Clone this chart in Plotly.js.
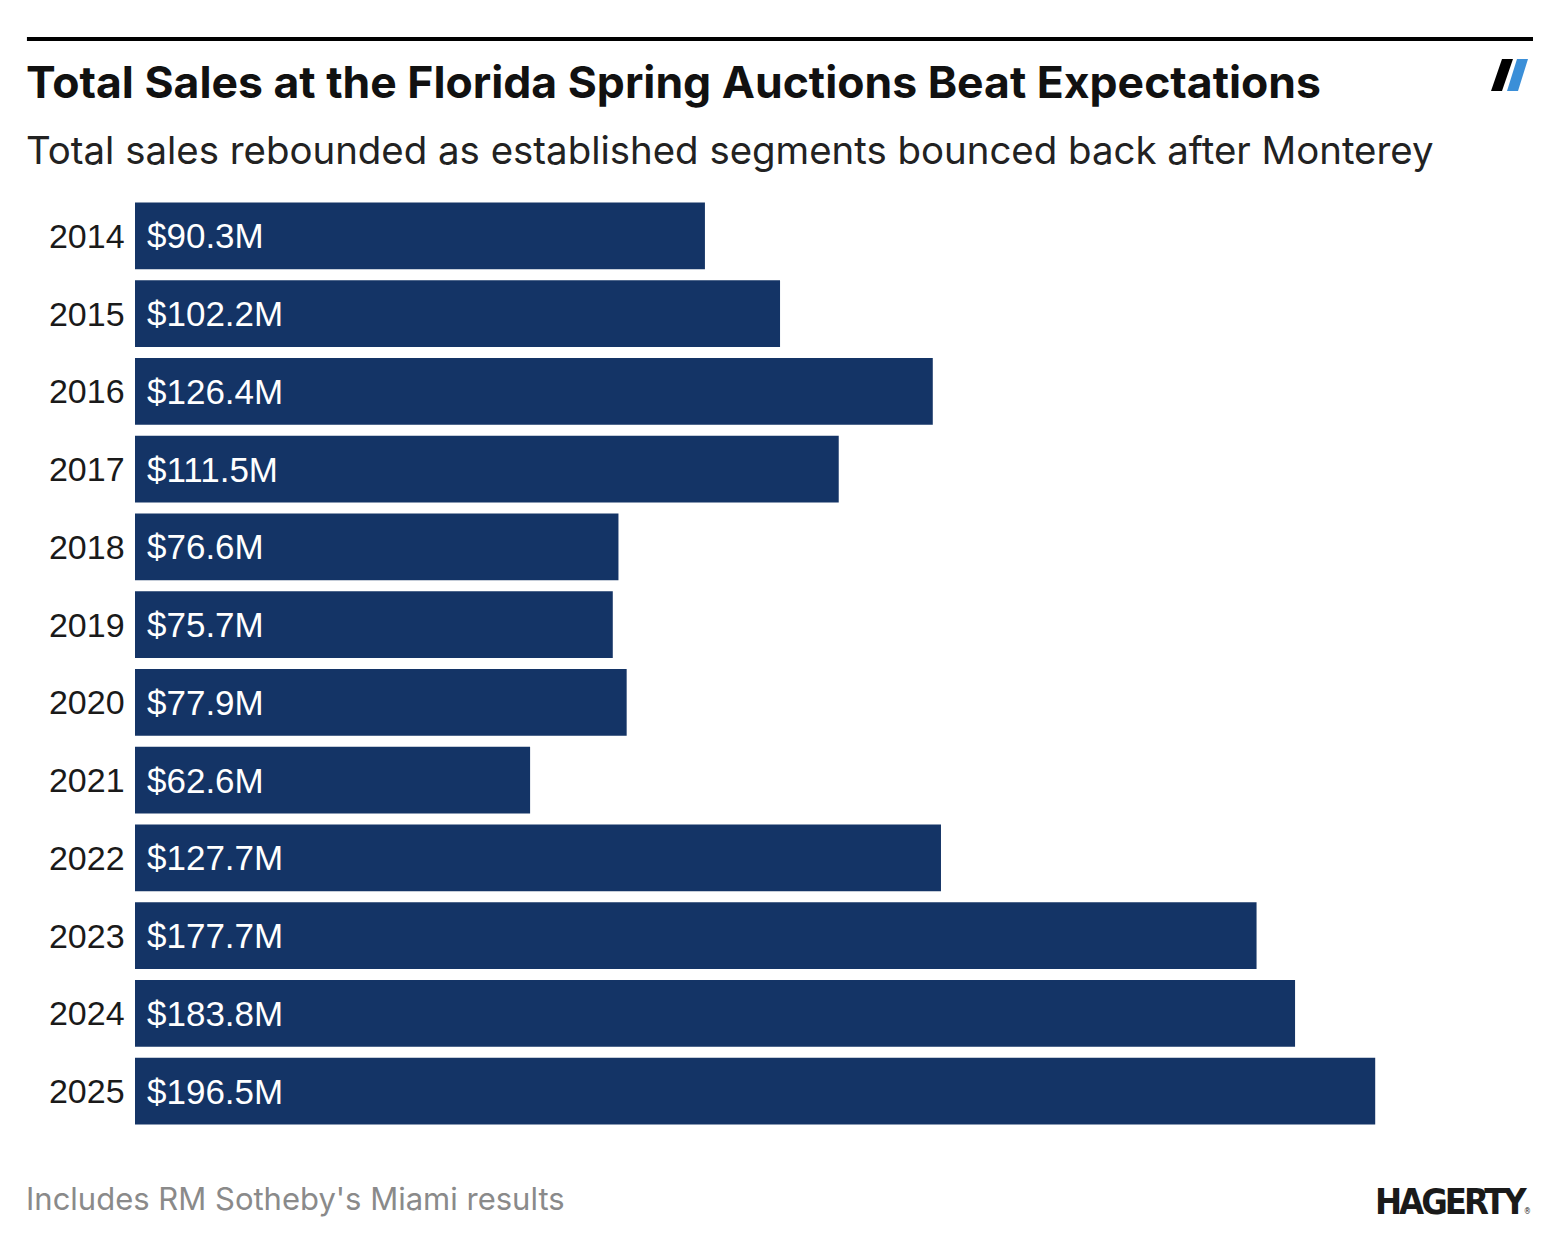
<!DOCTYPE html>
<html>
<head>
<meta charset="utf-8">
<script src="https://cdn.plot.ly/plotly-3.0.1.min.js"></script>
<style>html,body{margin:0;padding:0;background:#fff;}#chart{width:1566px;height:1252px;}</style>
</head>
<body>
<div id="chart"></div>
<script>
const years = ["2014","2015","2016","2017","2018","2019","2020","2021","2022","2023","2024","2025"];
const sales = [90.3, 102.2, 126.4, 111.5, 76.6, 75.7, 77.9, 62.6, 127.7, 177.7, 183.8, 196.5];
const labels = sales.map(v => "$" + v.toFixed(1) + "M");

const barColor = "#143466";

const trace = {
  type: "bar",
  orientation: "h",
  x: sales,
  y: years,
  marker: {color: barColor, line: {width: 0}},
  hoverinfo: "none"
};

const annotations = years.map((yr, i) => ({
  x: 0, y: i, xref: "x", yref: "y",
  text: labels[i], showarrow: false,
  xanchor: "left", yanchor: "middle", xshift: 10,
  font: {family: "Liberation Sans, Arial, sans-serif", size: 35, color: "#ffffff"}
}));

annotations.push(
  {xref: "paper", yref: "paper", x: -0.0773, y: 1.0, xanchor: "left", yanchor: "bottom",
   xshift: -3, yshift: 86, text: "<b>Total Sales at the Florida Spring Auctions Beat Expectations</b>", showarrow: false,
   font: {family: "Inter, sans-serif", size: 44.5, color: "#111111"}},
  {xref: "paper", yref: "paper", x: -0.0773, y: 1.0, xanchor: "left", yanchor: "bottom",
   xshift: -3, yshift: 22, text: "Total sales rebounded as established segments bounced back after Monterey", showarrow: false,
   font: {family: "Inter, sans-serif", size: 38.4, color: "#222222"}},
  {xref: "paper", yref: "paper", x: -0.0773, y: 0, xanchor: "left", yanchor: "middle",
   xshift: -3, yshift: -68, text: "Includes RM Sotheby's Miami results", showarrow: false,
   font: {family: "Inter, sans-serif", size: 31, color: "#8a8a8a"}},
  {xref: "paper", yref: "paper", x: 1.0, y: 0, xanchor: "right", yanchor: "middle",
   yshift: -71, text: "<b><span style='letter-spacing:-3px'>HAGERTY</span></b><span style='font-size:8px'>®</span>", showarrow: false,
   font: {family: "DejaVu Sans Condensed, sans-serif", size: 36, color: "#1a1a1a"}}
);

const shapes = [
  {type: "line", xref: "paper", yref: "paper", x0: -0.0773, x1: 1.0, y0: 1.1694, y1: 1.1694,
   line: {color: "#000000", width: 4}},
  {type: "path", xref: "paper", yref: "paper",
   path: "M 0.97783,1.1479 L 0.98569,1.1479 L 0.97783,1.1136 L 0.96996,1.1136 Z",
   fillcolor: "#000000", line: {width: 0}},
  {type: "path", xref: "paper", yref: "paper",
   path: "M 0.98856,1.1479 L 0.99642,1.1479 L 0.98927,1.1136 L 0.98140,1.1136 Z",
   fillcolor: "#3b8fd8", line: {width: 0}}
];

const layout = {
  width: 1566, height: 1252,
  margin: {l: 135, r: 33, t: 197, b: 122},
  paper_bgcolor: "#ffffff", plot_bgcolor: "#ffffff",
  bargap: 0.14,
  showlegend: false,
  xaxis: {range: [0, 221.5], showgrid: false, zeroline: false, showticklabels: false, showline: false, fixedrange: true, automargin: false},
  yaxis: {type: "category", categoryorder: "array", categoryarray: years, range: [11.5, -0.5],
          showgrid: false, zeroline: false, showline: false, automargin: false,
          ticks: "", ticksuffix: " ",
          tickfont: {family: "Liberation Sans, Arial, sans-serif", size: 34, color: "#1a1a1a"}},
  annotations: annotations,
  shapes: shapes
};

Plotly.newPlot("chart", [trace], layout, {displayModeBar: false, staticPlot: true});
</script>
</body>
</html>
